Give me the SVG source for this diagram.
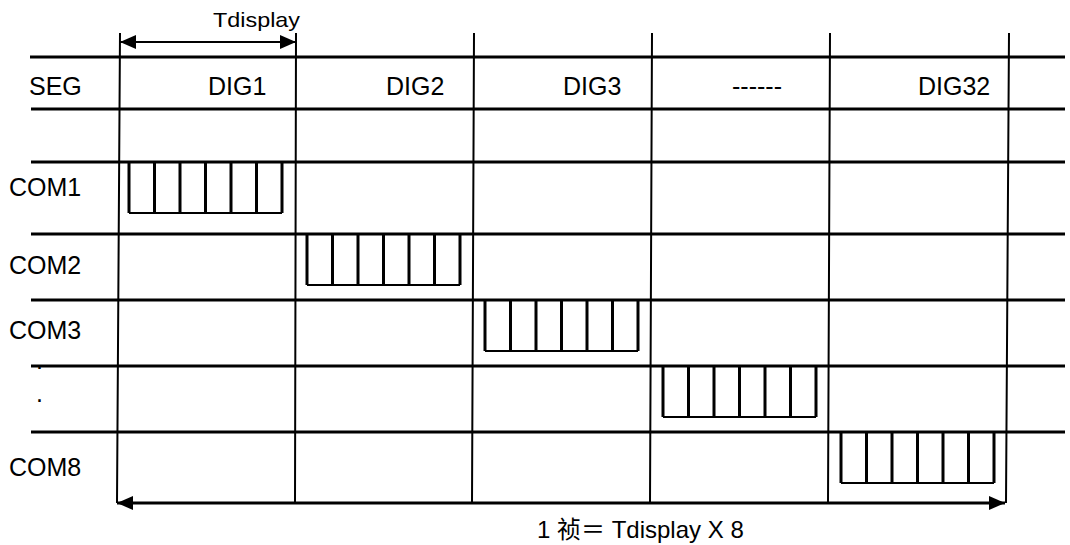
<svg xmlns="http://www.w3.org/2000/svg" width="1070" height="545" viewBox="0 0 1070 545">
<style>
.t{font-family:"Liberation Sans",Arial,"Noto Sans CJK SC",sans-serif;font-size:25px;fill:#000}
.h{stroke:#000;stroke-width:3;fill:none}
.v{stroke:#000;stroke-width:2;fill:none}
.bar{stroke:#000;stroke-width:3;fill:none}
.bot{stroke:#000;stroke-width:2;fill:none}
.arr{stroke:#000;fill:none}
</style>
<defs>
<marker id="ah" viewBox="0 0 16 14" refX="16" refY="7" markerWidth="16" markerHeight="14" markerUnits="userSpaceOnUse" orient="auto-start-reverse">
<path d="M0,0 L16,7 L0,14 Z" fill="#000"/>
</marker>
<g id="comb">
<path class="bar" d="M0,0 V51 M25.5,0 V51 M51,0 V51 M76.5,0 V51 M102,0 V51 M127.5,0 V51 M153,0 V51"/>
<path class="bot" d="M0,51 H153"/>
</g>
</defs>
<g id="grid">
<path class="h" d="M30,57 H1065 M31,109 H1065 M31,162 H1065 M31,234 H1065 M31,300 H1065 M31,366 H1065 M31,432 H1065"/>
<path class="v" d="M120,33 L117,503 M296,33 L295,503 M474,33 L472,503 M652,33 L650,503 M830,33 L828,503 M1009,33 L1006,503"/>
</g>
<g id="labels">
<text class="t" x="29" y="95">SEG</text>
<text class="t" x="208" y="95">DIG1</text>
<text class="t" x="386" y="95">DIG2</text>
<text class="t" x="563" y="95">DIG3</text>
<text class="t" x="732" y="95">------</text>
<text class="t" x="918" y="95">DIG32</text>
<text class="t" x="9" y="196">COM1</text>
<text class="t" x="9" y="274">COM2</text>
<text class="t" x="9" y="339">COM3</text>
<text class="t" x="36" y="369">.</text>
<text class="t" x="36" y="402">.</text>
<text class="t" x="9" y="476">COM8</text>
</g>
<g id="pulses">
<use href="#comb" x="129" y="162"/>
<use href="#comb" x="307" y="234"/>
<use href="#comb" x="485" y="300"/>
<use href="#comb" x="663" y="366"/>
<use href="#comb" x="841" y="432"/>
</g>
<g id="connectors">
<line class="arr" x1="120" y1="42" x2="296" y2="42" stroke-width="2" marker-start="url(#ah)" marker-end="url(#ah)"/>
<line class="arr" x1="117" y1="503" x2="1005" y2="503" stroke-width="3" marker-start="url(#ah)" marker-end="url(#ah)"/>
</g>
<text class="t" x="213" y="27" style="font-size:21px" textLength="87" lengthAdjust="spacingAndGlyphs">Tdisplay</text>
<text class="t" x="537" y="538" style="font-size:24px">1 祯＝ Tdisplay X 8</text>
</svg>
